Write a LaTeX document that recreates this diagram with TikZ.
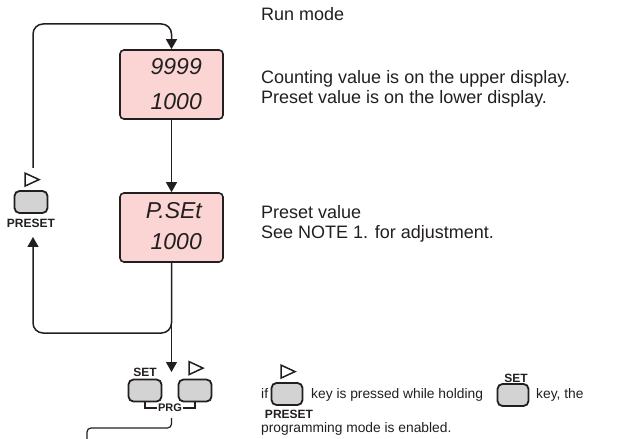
\documentclass[tikz,border=0pt]{standalone}
\usepackage{fontspec}
\setmainfont{Liberation Sans}
\usetikzlibrary{arrows.meta,calc}
\definecolor{dispfill}{RGB}{251,212,212}
\definecolor{keyfill}{RGB}{211,211,211}
\definecolor{ink}{RGB}{35,31,32}
\begin{document}
\begin{tikzpicture}[x=1bp,y=-1bp,
  display/.style={draw=ink, fill=dispfill, line width=1.6bp, rounded corners=4bp, minimum width=103bp, minimum height=69bp, inner sep=0},
  keybox/.style={draw=ink, fill=keyfill, line width=1.8bp, rounded corners=5bp, minimum width=33bp, minimum height=22bp, inner sep=0},
  ikeybox/.style={keybox, minimum width=31bp, minimum height=22bp},
  segtext/.style={font=\fontsize{23bp}{23bp}\selectfont\itshape, text=ink, inner sep=0, anchor=base east},
  desc/.style={font=\fontsize{18bp}{20bp}\selectfont, text=ink, anchor=base west, inner sep=0},
  small/.style={font=\fontsize{13.8bp}{16bp}\selectfont, text=ink, anchor=base west, inner sep=0},
  keylabel/.style={font=\fontsize{12bp}{12bp}\selectfont\bfseries, text=ink, inner sep=0},
  loopline/.style={draw=ink, line width=1.5bp, rounded corners=10bp},
  conn/.style={draw=ink, line width=1bp},
  tip/.style={-{Triangle[length=10bp,width=11bp]}},
  hollow/.style={draw=ink, line width=1.5bp, line join=miter, fill=white}
]
\useasboundingbox[fill=white] (0,0) rectangle (618,439);

% displays
\node[display] (d1) at (171.5,84.5) {};
\node[display] (d2) at (171.5,227.5) {};
\node[segtext] (d1up) at (202,75) {9999};
\node[segtext] (d1lo) at (202,110) {1000};
\node[segtext] (d2up) at (202,219) {P.SEt};
\node[segtext] (d2lo) at (202,250) {1000};

% left PRESET key
\node[keybox] (pk) at (31,202) {};
\node[keylabel] (pkl) at (31,223) {PRESET};
\draw[hollow] ($(pk.north)+(-6,-17)$) -- ($(pk.north)+(-6,-4)$) -- ($(pk.north)+(8,-10.5)$) -- cycle;

% SET and arrow keys
\node[keybox] (sk) at (145,390.5) {};
\node[keybox] (rk) at (195,390.5) {};
\node[keylabel] (skl) at (145,372) {SET};
\draw[hollow] ($(rk.north)+(-6,-17)$) -- ($(rk.north)+(-6,-4)$) -- ($(rk.north)+(8,-10.5)$) -- cycle;
\node[font=\fontsize{11bp}{11bp}\selectfont\bfseries, text=ink, inner sep=1bp] (prg) at (170,408) {PRG};
\draw[ink, line width=1.3bp] (sk.south) |- (prg.west);
\draw[ink, line width=1.3bp] (rk.south) |- (prg.east);

% connectors
\coordinate (ltop) at (33,168);
\coordinate (lbot) at (33,237);
\coordinate (kin) at (171.5,372);
\coordinate (prgout) at (171.5,418);
\coordinate (outend) at (87,439);
\draw[loopline, tip] (ltop) -- (33,24) -- (d1.north |- 0,24) -- (d1.north);
\draw[conn, tip] (d1.south) -- (d2.north);
\draw[loopline, tip] (d2.south) -- (d2.south |- 0,333) -- (33,333) -- (lbot);
\draw[conn, tip] (d2.south) -- (kin);
\draw[ink, line width=1.2bp, rounded corners=4bp] (prgout) -- (prgout |- 0,428) -- (outend |- 0,428) -- (outend);

% right texts
\node[desc] (t1) at (261,21) {Run mode};
\node[desc] (t2) at (261,84) {Counting value is on the upper display.};
\node[desc] (t3) at (261,104) {Preset value is on the lower display.};
\node[desc] (t4) at (261,219) {Preset value};
\node[desc] (t5) at (261,239) {See NOTE 1. for adjustment.};

% bottom note
\node[small] (b1) at (261,398) {if};
\node[ikeybox] (ik1) at (287,394) {};
\draw[hollow] ($(ik1.north)+(-6,-17)$) -- ($(ik1.north)+(-6,-4)$) -- ($(ik1.north)+(8,-10.5)$) -- cycle;
\node[keylabel] (ik1l) at (289,414) {PRESET};
\node[small] (b2) at (311,398) {key is pressed while holding};
\node[ikeybox] (ik2) at (513,395) {};
\node[keylabel] (ik2l) at (516,378) {SET};
\node[small] (b3) at (536,398) {key, the};
\node[small] (b4) at (261,432) {programming mode is enabled.};
\end{tikzpicture}
\end{document}
